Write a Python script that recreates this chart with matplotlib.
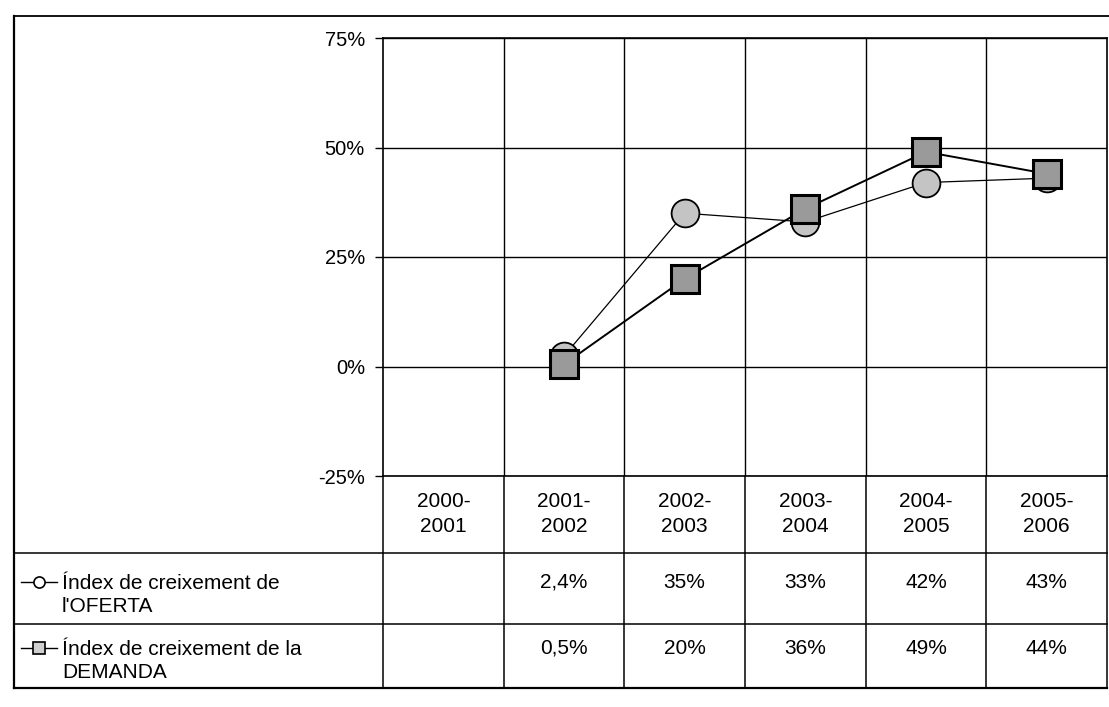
import numpy as np
import matplotlib
matplotlib.use("Agg")
import matplotlib.pyplot as plt
from matplotlib.ticker import FuncFormatter, FixedLocator

plt.rcParams['font.family'] = ['Liberation Sans', 'DejaVu Sans']

# data (percent)
periods = ["2000-\n2001", "2001-\n2002", "2002-\n2003",
           "2003-\n2004", "2004-\n2005", "2005-\n2006"]
oferta = [np.nan, 2.4, 35, 33, 42, 43]
demanda = [np.nan, 0.5, 20, 36, 49, 44]
label_oferta = "Índex de creixement de\nl'OFERTA"
label_demanda = "Índex de creixement de la\nDEMANDA"
y_ticks = [-25, 0, 25, 50, 75]

W, H = 1109, 707
fig = plt.figure(figsize=(W / 100, H / 100), dpi=100)

# background layer in pixel units (frame + data table)
bg = fig.add_axes([0, 0, 1, 1])
bg.set_xlim(0, W)
bg.set_ylim(H, 0)
bg.axis("off")

# plot area
left, right, top, bottom = 383, 1107, 38, 476
ax = fig.add_axes([left / W, 1 - bottom / H, (right - left) / W, (bottom - top) / H])
ax.patch.set_alpha(0)
x = np.arange(len(periods))
ax.set_xlim(-0.5, len(periods) - 0.5)
ax.set_ylim(-25, 75)

ax.plot(x, oferta, color="black", lw=0.9, marker="o", ms=20,
        mfc="#c4c4c4", mec="black", mew=1.3, zorder=3)
ax.plot(x, demanda, color="black", lw=1.4, marker="s", ms=20,
        mfc="#9a9a9a", mec="black", mew=2.2, zorder=4)

ax.yaxis.set_major_locator(FixedLocator(y_ticks))
ax.yaxis.set_major_formatter(FuncFormatter(lambda v, p: f"{v:g}%"))
ax.tick_params(axis="y", direction="out", length=6, width=1, pad=7, labelsize=14.5)
ax.set_xticks(x)
ax.tick_params(axis="x", bottom=False, labelbottom=False)
ax.set_xticks(x[:-1] + 0.5, minor=True)
ax.tick_params(axis="x", which="minor", bottom=False)
ax.grid(axis="y", color="black", lw=1)
ax.grid(axis="x", which="minor", color="black", lw=1)
for s in ax.spines.values():
    s.set_color("black")
    s.set_linewidth(1.2)

# column positions taken from the plot's x scale, in pixels
fig.canvas.draw()
def px(v):
    return ax.transData.transform((v, 0))[0]
centers = [px(i) for i in x]
edges = [px(i - 0.5) for i in x] + [px(len(periods) - 0.5)]

frame_l = 14
row1, row2, tbl_bot = 553, 624, 688

# outer frame
bg.plot([frame_l, W], [16, 16], color="black", lw=1.3)
bg.plot([frame_l, frame_l], [16, tbl_bot], color="black", lw=1.6)

# table lines
for yy in (row1, row2):
    bg.plot([frame_l, edges[-1]], [yy, yy], color="black", lw=1.1)
bg.plot([frame_l, edges[-1]], [tbl_bot, tbl_bot], color="black", lw=1.6)
for ex in edges:
    bg.plot([ex, ex], [bottom, tbl_bot], color="black", lw=1.1)

def fmt(v):
    return "" if np.isnan(v) else f"{v:g}".replace(".", ",") + "%"

fs = 15
for cx, p, o, d in zip(centers, periods, oferta, demanda):
    bg.text(cx, 514, p, ha="center", va="center", fontsize=fs, linespacing=1.45)
    bg.text(cx, 582, fmt(o), ha="center", va="center", fontsize=fs)
    bg.text(cx, 648, fmt(d), ha="center", va="center", fontsize=fs)

# row labels with legend keys
bg.text(62, 595, label_oferta, ha="left", va="center", fontsize=fs, linespacing=1.3)
bg.text(62, 661, label_demanda, ha="left", va="center", fontsize=fs, linespacing=1.3)
bg.plot([21, 57], [582, 582], color="black", lw=1)
bg.plot([39], [582], marker="o", ms=8, mfc="white", mec="black", mew=1.2)
bg.plot([21, 57], [648, 648], color="black", lw=1)
bg.plot([39], [648], marker="s", ms=8, mfc="#cfcfcf", mec="black", mew=1.2)

fig.savefig("out.png", dpi=100)
